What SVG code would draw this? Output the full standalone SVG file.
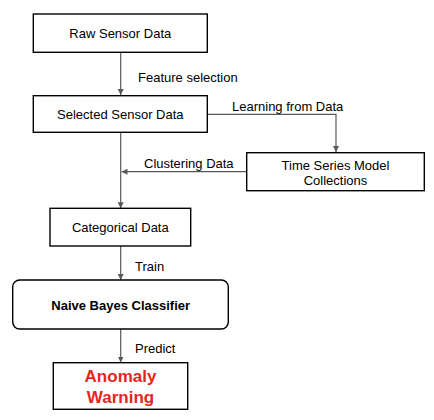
<svg xmlns="http://www.w3.org/2000/svg" width="434" height="420" viewBox="0 0 434 420">
<defs>
<marker id="ah" viewBox="0 0 10 10" refX="10" refY="5" markerWidth="6" markerHeight="6" markerUnits="userSpaceOnUse" orient="auto">
<path d="M0,0 L10,5 L0,10 z" fill="#595959"/>
</marker>
</defs>
<style>
.box{fill:#fff;stroke:#000;stroke-width:1.4}
.t{font-family:"Liberation Sans",Arial,sans-serif;font-size:13px;fill:#000;text-anchor:middle}
.lbl{font-family:"Liberation Sans",Arial,sans-serif;font-size:13px;fill:#000}
.b{font-weight:bold}
.red{font-family:"Liberation Sans",Arial,sans-serif;font-size:17px;font-weight:bold;fill:#e8251c;text-anchor:middle}
.c{fill:none;stroke:#595959;stroke-width:1.2}
</style>
<rect width="434" height="420" fill="#fff"/>
<g id="connectors">
<path class="c" d="M120.7,52.5 V95" marker-end="url(#ah)"/>
<path class="c" d="M207.3,114.3 H336 V152" marker-end="url(#ah)"/>
<path class="c" d="M246.7,171.7 H121.5" marker-end="url(#ah)"/>
<path class="c" d="M120.7,132.3 V208.3" marker-end="url(#ah)"/>
<path class="c" d="M120.7,246 V280" marker-end="url(#ah)"/>
<path class="c" d="M120.7,329 V362.5" marker-end="url(#ah)"/>
<text class="lbl" x="138" y="82">Feature selection</text>
<text class="lbl" x="232" y="111">Learning from Data</text>
<text class="lbl" x="144" y="168">Clustering Data</text>
<text class="lbl" x="135" y="271">Train</text>
<text class="lbl" x="135" y="353">Predict</text>
</g>
<g id="raw">
<rect class="box" x="33.3" y="14" width="174" height="38.3"/>
<text class="t" x="120.3" y="37.5">Raw Sensor Data</text>
</g>
<g id="selected">
<rect class="box" x="33.3" y="95.7" width="174" height="36.6"/>
<text class="t" x="120.3" y="118.5">Selected Sensor Data</text>
</g>
<g id="timeseries">
<rect class="box" x="246.7" y="152.7" width="177.6" height="38"/>
<text class="t" x="335.5" y="170">Time Series Model</text>
<text class="t" x="335.5" y="185">Collections</text>
</g>
<g id="categorical">
<rect class="box" x="50" y="208.3" width="140.7" height="37.7"/>
<text class="t" x="120.3" y="232">Categorical Data</text>
</g>
<g id="naive">
<rect class="box" x="12.7" y="280" width="215.6" height="49" rx="7" ry="7"/>
<text class="t b" x="120.7" y="310">Naive Bayes Classifier</text>
</g>
<g id="anomaly">
<rect class="box" x="53.3" y="362.7" width="134.4" height="46.6"/>
<text class="red" x="120.5" y="382">Anomaly</text>
<text class="red" x="120.5" y="402.5">Warning</text>
</g>
</svg>
